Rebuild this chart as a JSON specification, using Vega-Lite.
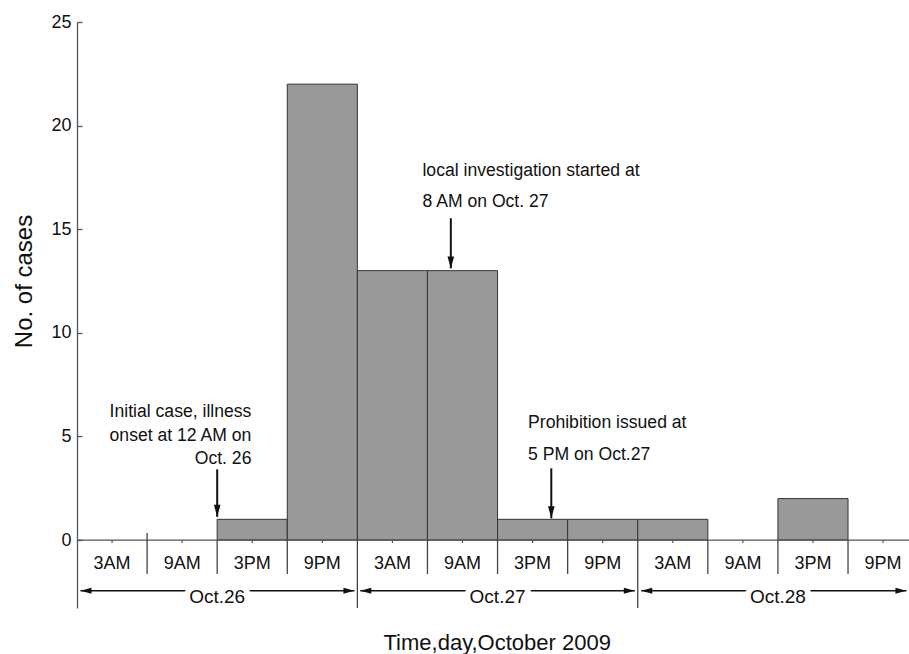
{
  "$schema": "https://vega.github.io/schema/vega-lite/v6.json",
  "width": 832,
  "height": 586,
  "autosize": {"type": "none"},
  "padding": {"left": 77, "top": 22, "right": 0, "bottom": 46},
  "config": {"view": {"stroke": null}, "font": "Liberation Sans"},
  "datasets": {
    "cases": [
      {"start": 0, "end": 6, "mid": 3, "label": "3AM", "cases": 0},
      {"start": 6, "end": 12, "mid": 9, "label": "9AM", "cases": 0},
      {"start": 12, "end": 18, "mid": 15, "label": "3PM", "cases": 1},
      {"start": 18, "end": 24, "mid": 21, "label": "9PM", "cases": 22},
      {"start": 24, "end": 30, "mid": 27, "label": "3AM", "cases": 13},
      {"start": 30, "end": 36, "mid": 33, "label": "9AM", "cases": 13},
      {"start": 36, "end": 42, "mid": 39, "label": "3PM", "cases": 1},
      {"start": 42, "end": 48, "mid": 45, "label": "9PM", "cases": 1},
      {"start": 48, "end": 54, "mid": 51, "label": "3AM", "cases": 1},
      {"start": 54, "end": 60, "mid": 57, "label": "9AM", "cases": 0},
      {"start": 60, "end": 66, "mid": 63, "label": "3PM", "cases": 2},
      {"start": 66, "end": 72, "mid": 69, "label": "9PM", "cases": 0}
    ],
    "bounds": [
      {"hour": 6, "top": 0.34, "bottom": -1.64},
      {"hour": 12, "top": 0, "bottom": -1.64},
      {"hour": 18, "top": 0, "bottom": -1.64},
      {"hour": 24, "top": 0, "bottom": -3.28},
      {"hour": 30, "top": 0, "bottom": -1.64},
      {"hour": 36, "top": 0, "bottom": -1.64},
      {"hour": 42, "top": 0, "bottom": -1.64},
      {"hour": 48, "top": 0, "bottom": -3.28},
      {"hour": 54, "top": 0, "bottom": -1.64},
      {"hour": 60, "top": 0, "bottom": -1.64},
      {"hour": 66, "top": 0, "bottom": -1.64}
    ],
    "days": [
      {"day": "Oct.26", "from": 0.3, "to": 23.75, "mid": 12},
      {"day": "Oct.27", "from": 24.25, "to": 47.75, "mid": 36},
      {"day": "Oct.28", "from": 48.3, "to": 71.0, "mid": 60}
    ],
    "events": [
      {"hour": 12, "top": 3.41, "tip": 1.12},
      {"hour": 32, "top": 15.53, "tip": 13.11},
      {"hour": 40.6, "top": 3.46, "tip": 1.05}
    ],
    "notesLeft": [
      {"text": "local investigation started at", "hour": 29.57, "y": 17.57},
      {"text": "8 AM on Oct. 27", "hour": 29.57, "y": 16.09},
      {"text": "Prohibition issued at", "hour": 38.61, "y": 5.39},
      {"text": "5 PM on Oct.27", "hour": 38.61, "y": 3.86}
    ],
    "notesRight": [
      {"text": "Initial case, illness", "hour": 14.93, "y": 5.92},
      {"text": "onset at 12 AM on", "hour": 14.93, "y": 4.79},
      {"text": "Oct. 26", "hour": 14.93, "y": 3.67}
    ]
  },
  "layer": [
    {
      "data": {"name": "cases"},
      "transform": [{"filter": "datum.cases > 0"}],
      "mark": {"type": "rect", "fill": "#999999", "stroke": "#333333", "strokeWidth": 1},
      "encoding": {
        "x": {"field": "start", "type": "quantitative",
          "scale": {"domain": [0, 71.22], "nice": false, "zero": false},
          "axis": {"domain": false, "ticks": false, "labels": false, "grid": false,
            "title": "Time,day,October 2009", "titleFontSize": 22, "titleFontWeight": "normal",
            "titleX": 419.7, "titleY": 41.3, "titleBaseline": "alphabetic", "titleAlign": "center", "titleColor": "#111111"}},
        "x2": {"field": "end"},
        "y": {"field": "cases", "type": "quantitative",
          "scale": {"domain": [-3.28, 25], "nice": false, "zero": false},
          "axis": {"values": [0, 5, 10, 15, 20, 25], "title": "No. of cases", "titleFontSize": 24,
            "titleFontWeight": "normal", "titleX": -45.6, "titleY": 259, "titleBaseline": "alphabetic",
            "titleAngle": -90, "titleAlign": "center", "titleColor": "#111111",
            "labelFontSize": 18, "labelColor": "#111111", "tickSize": -5, "labelPadding": 11,
            "domainColor": "#555555", "tickColor": "#555555", "domainWidth": 1.3, "tickWidth": 1.3,
            "grid": false, "labelBaseline": "middle"}},
        "y2": {"datum": 0}
      }
    },
    {
      "data": {"values": [{"level": 0}]},
      "mark": {"type": "rule", "color": "#555555", "strokeWidth": 1.3},
      "encoding": {
        "y": {"field": "level", "type": "quantitative", "scale": {"domain": [-3.28, 25], "nice": false, "zero": false}}
      }
    },
    {
      "data": {"name": "bounds"},
      "mark": {"type": "rule", "color": "#444444", "strokeWidth": 1.3},
      "encoding": {
        "x": {"field": "hour", "type": "quantitative", "scale": {"domain": [0, 71.22], "nice": false, "zero": false}},
        "y": {"field": "top", "type": "quantitative", "scale": {"domain": [-3.28, 25], "nice": false, "zero": false}},
        "y2": {"field": "bottom"}
      }
    },
    {
      "data": {"name": "cases"},
      "mark": {"type": "rule", "color": "#555555", "strokeWidth": 1.2},
      "encoding": {
        "x": {"field": "mid", "type": "quantitative", "scale": {"domain": [0, 71.22], "nice": false, "zero": false}},
        "y": {"datum": 0, "type": "quantitative", "scale": {"domain": [-3.28, 25], "nice": false, "zero": false}},
        "y2": {"datum": -0.145}
      }
    },
    {
      "data": {"name": "cases"},
      "mark": {"type": "text", "fontSize": 18, "align": "center", "baseline": "alphabetic", "color": "#111111"},
      "encoding": {
        "x": {"field": "mid", "type": "quantitative", "scale": {"domain": [0, 71.22], "nice": false, "zero": false}},
        "y": {"datum": -1.414, "type": "quantitative", "scale": {"domain": [-3.28, 25], "nice": false, "zero": false}},
        "text": {"field": "label"}
      }
    },
    {
      "data": {"name": "days"},
      "mark": {"type": "rule", "color": "#111111", "strokeWidth": 1.5},
      "encoding": {
        "x": {"field": "from", "type": "quantitative", "scale": {"domain": [0, 71.22], "nice": false, "zero": false}},
        "x2": {"field": "to"},
        "y": {"datum": -2.45, "type": "quantitative", "scale": {"domain": [-3.28, 25], "nice": false, "zero": false}}
      }
    },
    {
      "data": {"name": "days"},
      "mark": {"type": "point", "shape": "M0,0L2,-0.55L2,0.55Z", "size": 121, "filled": true, "fill": "#111111", "strokeWidth": 0, "opacity": 1},
      "encoding": {
        "x": {"field": "from", "type": "quantitative", "scale": {"domain": [0, 71.22], "nice": false, "zero": false}},
        "y": {"datum": -2.45, "type": "quantitative", "scale": {"domain": [-3.28, 25], "nice": false, "zero": false}}
      }
    },
    {
      "data": {"name": "days"},
      "mark": {"type": "point", "shape": "M0,0L-2,-0.55L-2,0.55Z", "size": 121, "filled": true, "fill": "#111111", "strokeWidth": 0, "opacity": 1},
      "encoding": {
        "x": {"field": "to", "type": "quantitative", "scale": {"domain": [0, 71.22], "nice": false, "zero": false}},
        "y": {"datum": -2.45, "type": "quantitative", "scale": {"domain": [-3.28, 25], "nice": false, "zero": false}}
      }
    },
    {
      "data": {"name": "days"},
      "mark": {"type": "text", "fontSize": 19, "align": "center", "baseline": "alphabetic", "fill": "white", "stroke": "white", "strokeWidth": 12, "strokeJoin": "round"},
      "encoding": {
        "x": {"field": "mid", "type": "quantitative", "scale": {"domain": [0, 71.22], "nice": false, "zero": false}},
        "y": {"datum": -3.03, "type": "quantitative", "scale": {"domain": [-3.28, 25], "nice": false, "zero": false}},
        "text": {"field": "day"}
      }
    },
    {
      "data": {"name": "days"},
      "mark": {"type": "text", "fontSize": 19, "align": "center", "baseline": "alphabetic", "color": "#111111"},
      "encoding": {
        "x": {"field": "mid", "type": "quantitative", "scale": {"domain": [0, 71.22], "nice": false, "zero": false}},
        "y": {"datum": -3.03, "type": "quantitative", "scale": {"domain": [-3.28, 25], "nice": false, "zero": false}},
        "text": {"field": "day"}
      }
    },
    {
      "data": {"name": "events"},
      "mark": {"type": "rule", "color": "#111111", "strokeWidth": 2},
      "encoding": {
        "x": {"field": "hour", "type": "quantitative", "scale": {"domain": [0, 71.22], "nice": false, "zero": false}},
        "y": {"field": "top", "type": "quantitative", "scale": {"domain": [-3.28, 25], "nice": false, "zero": false}},
        "y2": {"field": "tip"}
      }
    },
    {
      "data": {"name": "events"},
      "mark": {"type": "point", "shape": "M0,0L-0.55,-2L0.55,-2Z", "size": 144, "filled": true, "fill": "#111111", "strokeWidth": 0, "opacity": 1},
      "encoding": {
        "x": {"field": "hour", "type": "quantitative", "scale": {"domain": [0, 71.22], "nice": false, "zero": false}},
        "y": {"field": "tip", "type": "quantitative", "scale": {"domain": [-3.28, 25], "nice": false, "zero": false}}
      }
    },
    {
      "data": {"name": "notesLeft"},
      "mark": {"type": "text", "fontSize": 17.6, "align": "left", "baseline": "alphabetic", "color": "#111111"},
      "encoding": {
        "x": {"field": "hour", "type": "quantitative", "scale": {"domain": [0, 71.22], "nice": false, "zero": false}},
        "y": {"field": "y", "type": "quantitative", "scale": {"domain": [-3.28, 25], "nice": false, "zero": false}},
        "text": {"field": "text"}
      }
    },
    {
      "data": {"name": "notesRight"},
      "mark": {"type": "text", "fontSize": 17.6, "align": "right", "baseline": "alphabetic", "color": "#111111"},
      "encoding": {
        "x": {"field": "hour", "type": "quantitative", "scale": {"domain": [0, 71.22], "nice": false, "zero": false}},
        "y": {"field": "y", "type": "quantitative", "scale": {"domain": [-3.28, 25], "nice": false, "zero": false}},
        "text": {"field": "text"}
      }
    }
  ]
}
